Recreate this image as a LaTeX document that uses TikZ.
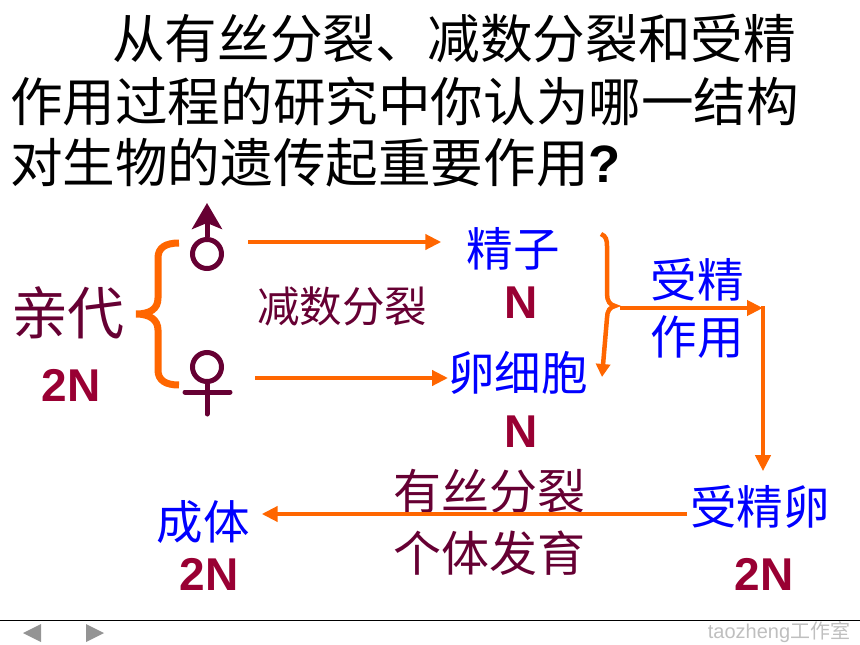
\documentclass[tikz,border=0pt]{standalone}
\usepackage{fontspec}
\setmainfont{Liberation Sans}
\newfontfamily\cjk{Noto Sans CJK SC}
\usetikzlibrary{arrows.meta, positioning}
\definecolor{maroon}{HTML}{660033}
\definecolor{wine}{HTML}{990033}
\definecolor{flow}{HTML}{FF6600}
\tikzset{
	title/.style={anchor=west, inner sep=0pt, font=\fontsize{52.6}{52.6}\selectfont\cjk},
	bluetext/.style={inner sep=0pt, text=blue, font=\fontsize{46.5}{46.5}\selectfont\cjk},
	maroontext/.style={inner sep=0pt, text=maroon, font=\fontsize{48}{48}\selectfont\cjk},
	ntext/.style={inner sep=0pt, text=wine, font=\fontsize{46}{46}\selectfont\bfseries},
	flowline/.style={draw=flow, line width=4.5pt, -{Triangle[length=16pt,width=15pt]}},
	symbol/.style={draw=maroon, line width=5pt, line cap=round},
	ring/.style={circle, draw=maroon, line width=5pt, minimum size=29pt, inner sep=0pt},
	pager/.style={fill=black!42, draw=none},
}
\begin{document}
\begin{tikzpicture}[x=1pt, y=-1pt]
	\useasboundingbox (0,0) rectangle (860,645);
	% question
	\node[title] (line1) at (112,39) {从有丝分裂、减数分裂和受精};
	\node[title] (line2) at (10,101) {作用过程的研究中你认为哪一结构};
	\node[title] (line3) at (10,163) {对生物的遗传起重要作用{\normalfont\bfseries ?}};
	% parents
	\node[maroontext, font=\fontsize{57}{57}\selectfont\cjk] (parent) at (68,313) {亲代};
	\node[ntext] (parentN) at (71,385) {2N};
	\node[ring] (malering) at (207,254) {};
	\draw[symbol, line cap=butt, -{Stealth[length=26pt,width=30pt,inset=6pt]}] (malering.north) -- (207,203);
	\node[ring] (femalering) at (207,367) {};
	\draw[symbol, line cap=round] (femalering.south) -- (207,414);
	\draw[symbol] (185,392) -- (230,392);
	\draw[draw=flow, line width=7pt] (179,243) .. controls (165,243) and (158,248) .. (158,258) -- (158,298) .. controls (158,309) and (150,314) .. (136,314) .. controls (150,314) and (158,320) .. (158,330) -- (158,370) .. controls (158,380) and (165,385) .. (179,385);
	\node[maroontext, font=\fontsize{42.5}{42.5}\selectfont\cjk] (meiosis) at (342,306) {减数分裂};
	% gametes
	\node[bluetext] (sperm) at (513,249) {精子};
	\node[ntext] (spermN) at (521,303) {N};
	\node[bluetext] (egg) at (518,373) {卵细胞};
	\node[ntext] (eggN) at (521,432) {N};
	\draw[flowline, shorten <=24pt, shorten >=25pt] ([yshift=7pt]malering.east |- sperm.west) -- ([yshift=7pt]sperm.west);
	\draw[flowline, shorten <=31pt] ([yshift=-5pt]malering.east |- egg.west) -- ([yshift=-5pt]egg.west);
	\draw[draw=flow, line width=4.5pt, -{Triangle[length=13pt,width=14pt]}] (601,234) .. controls (606,236) and (607,240) .. (607,246) -- (607,294) .. controls (607,301) and (610,305) .. (615,306) .. controls (610,307) and (607,311) .. (607,318) -- (602,377);
	% fertilization
	\node[bluetext] (fert1) at (697,280) {受精};
	\node[bluetext] (fert2) at (697,337) {作用};
	\coordinate (corner) at (763,308);
	\draw[flowline] (620,308) -- (corner);
	\node[bluetext] (zygote) at (760,507) {受精卵};
	\node[ntext] (zygoteN) at (764,574) {2N};
	\draw[flowline, shorten >=14pt] ([yshift=2pt]corner) -- (zygote.north -| corner);
	% development
	\node[bluetext] (adult) at (203,522) {成体};
	\node[ntext] (adultN) at (209,574) {2N};
	\node[maroontext] (mitosis) at (489,491) {有丝分裂};
	\node[maroontext] (growth) at (489,553) {个体发育};
	\draw[flowline, shorten >=12pt, shorten <=3pt] ([yshift=-7pt]zygote.west) -- ([yshift=-7pt]adult.east |- zygote.west);
	% footer
	\coordinate (ruleL) at (0,620);
	\coordinate (ruleR) at (860,620);
	\draw[line width=1pt] (ruleL) -- (ruleR);
	\fill[pager] (41,624) -- (41,642) -- (23,633) -- cycle;
	\fill[pager] (86,624) -- (86,642) -- (104,633) -- cycle;
	\node[inner sep=0pt, text=black!25, font=\fontsize{20}{20}\selectfont] (mark) at (779,632) {taozheng{\cjk 工作室}};
\end{tikzpicture}
\end{document}
